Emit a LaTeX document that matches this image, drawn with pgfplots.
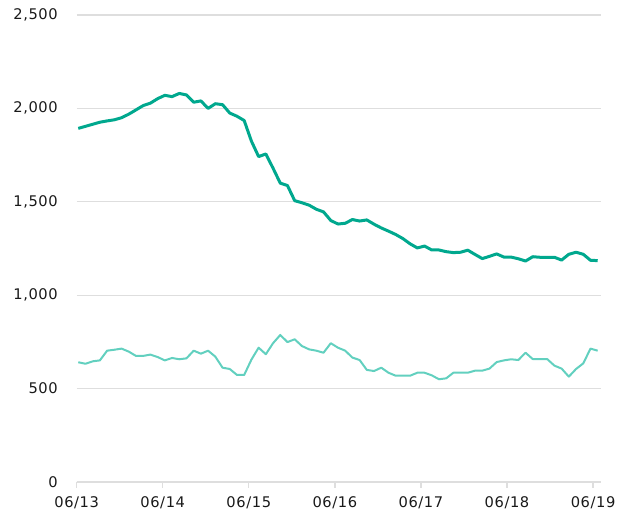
\documentclass[border=0pt]{standalone}
\usepackage{fontspec}
\setmainfont[LetterSpace=4]{DejaVu Sans}
\usepackage{pgfplots}
\pgfplotsset{compat=1.18}

\definecolor{darkteal}{RGB}{0,168,142}
\definecolor{lightteal}{RGB}{98,208,191}
\definecolor{gridgray}{RGB}{222,222,222}

\begin{document}
\begin{tikzpicture}
\begin{axis}[
    scale only axis,
    width=393.2pt,
    height=350.25pt,
    xmin=-0.22, xmax=72.45,
    ymin=0, ymax=2500,
    ytick={0,500,...,2500},
    xtick={-0.22,11.71,23.64,35.57,47.5,59.43,71.36},
    xticklabels={06/13,06/14,06/15,06/16,06/17,06/18,06/19},
    axis x line*=bottom,
    axis y line*=left,
    y axis line style={draw=none},
    x axis line style={draw=gridgray, line width=1pt},
    ytick style={draw=none},
    xtick style={draw=gridgray, line width=1pt},
    tick align=outside,
    major tick length=4.5pt,
    ymajorgrids,
    grid style={draw=gridgray, line width=1pt},
    ticklabel style={font=\fontsize{11}{13}\selectfont, text=black!90},
    yticklabel style={anchor=east, inner sep=0pt, xshift=-9.5pt},
    xticklabel style={anchor=north, inner sep=0pt, yshift=-6.5pt},
    /pgf/number format/.cd, 1000 sep={,}, assume math mode=true,
  ]

  % light series
  \addplot[lightteal, line width=1.5pt, line join=round] coordinates {
    (0,641) (1,633) (2,646) (3,651) (4,703) (5,708) (6,714) (7,698)
    (8,675) (9,675) (10,682) (11,669) (12,651) (13,664) (14,657) (15,662)
    (16,703) (17,687) (18,703) (19,671) (20,612) (21,605) (22,573) (23,573)
    (24,655) (25,719) (26,684) (27,743) (28,787) (29,749) (30,764) (31,728)
    (32,710) (33,703) (34,692) (35,743) (36,719) (37,703) (38,666) (39,653)
    (40,600) (41,594) (42,612) (43,585) (44,569) (45,569) (46,569) (47,585)
    (48,585) (49,571) (50,550) (51,555) (52,585) (53,585) (54,585) (55,596)
    (56,596) (57,607) (58,642) (59,651) (60,657) (61,653) (62,692) (63,658)
    (64,658) (65,658) (66,623) (67,607) (68,564) (69,605) (70,635) (71,714)
    (72,703)
  };

  % dark series
  \addplot[darkteal, line width=2.25pt, line join=round] coordinates {
    (0,1893) (1,1904) (2,1915) (3,1926) (4,1933) (5,1939) (6,1950) (7,1969)
    (8,1992) (9,2015) (10,2028) (11,2052) (12,2070) (13,2063) (14,2080) (15,2072)
    (16,2033) (17,2040) (18,2000) (19,2025) (20,2020) (21,1975) (22,1958) (23,1935)
    (24,1825) (25,1742) (26,1756) (27,1680) (28,1600) (29,1587) (30,1506) (31,1495)
    (32,1482) (33,1460) (34,1446) (35,1400) (36,1381) (37,1385) (38,1405) (39,1397)
    (40,1403) (41,1380) (42,1360) (43,1343) (44,1325) (45,1303) (46,1275) (47,1253)
    (48,1263) (49,1242) (50,1242) (51,1233) (52,1228) (53,1230) (54,1241) (55,1218)
    (56,1196) (57,1208) (58,1221) (59,1204) (60,1204) (61,1195) (62,1183) (63,1206)
    (64,1203) (65,1203) (66,1203) (67,1188) (68,1219) (69,1230) (70,1219) (71,1187)
    (72,1185)
  };
\end{axis}
\pgfresetboundingbox
\path[use as bounding box] (-57.5pt,-23.25pt) rectangle (421pt,361.5pt);
\end{tikzpicture}
\end{document}
